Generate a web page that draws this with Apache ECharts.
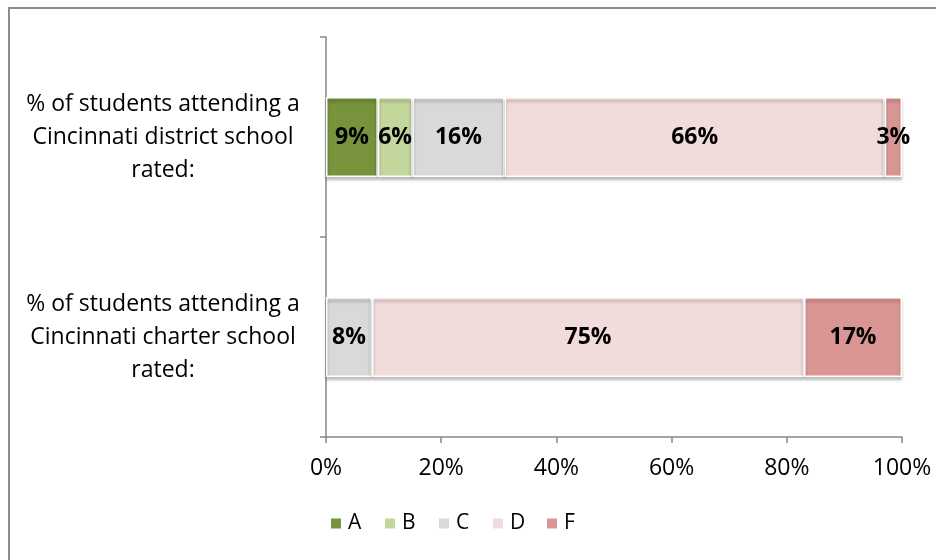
<!DOCTYPE html>
<html>
<head>
<meta charset="utf-8">
<script src="https://cdn.jsdelivr.net/npm/echarts@6/dist/echarts.min.js"></script>
<style>
  html, body { margin: 0; padding: 0; background: #fff; overflow: hidden; }
  #frame { position: absolute; left: 8px; top: 7px; width: 1000px; height: 700px; border: 2px solid #8c8c8c; box-sizing: border-box; }
  #chart { position: absolute; left: 0; top: 0; width: 936px; height: 560px; }
</style>
</head>
<body>
<div id="frame"></div>
<div id="chart"></div>
<script>
// Share of students by school rating, district vs. charter
const categories = [
  '% of students attending a\nCincinnati district school\nrated:',
  '% of students attending a\nCincinnati charter school\nrated:'
];
const grades = ['A', 'B', 'C', 'D', 'F'];
const gradeA = [9, 0];
const gradeB = [6, 0];
const gradeC = [16, 8];
const gradeD = [66, 75];
const gradeF = [3, 17];
const xTicks = [0, 20, 40, 60, 80, 100];

const colors = ['#77933C', '#C3D69B', '#D9D9D9', '#F2DCDB', '#D99694'];
const valuesByGrade = [gradeA, gradeB, gradeC, gradeD, gradeF];
const font = '"Open Sans", "DejaVu Sans", sans-serif';

const series = grades.map((g, i) => ({
  name: g,
  type: 'bar',
  stack: 'total',
  barWidth: 80,
  data: valuesByGrade[i].map(v => (v === 0 ? null : v)),
  itemStyle: {
    color: colors[i],
    borderColor: '#ffffff',
    borderWidth: 1.5,
    shadowColor: 'rgba(0,0,0,0.3)',
    shadowBlur: 3,
    shadowOffsetY: 3
  },
  label: {
    show: true,
    position: 'inside',
    formatter: p => (p.value ? p.value + '%' : ''),
    color: '#000',
    fontFamily: font,
    fontWeight: 'bold',
    fontSize: 23
  }
}));

// one legend entry per grade, laid out on an even pitch
const legends = grades.map((g, i) => ({
  data: [g],
  left: 324 + i * 54,
  top: 508,
  padding: 5,
  itemWidth: 12,
  itemHeight: 12,
  icon: 'rect',
  textStyle: { fontFamily: font, fontSize: 21, color: '#000', padding: [0, 0, 0, 1] }
}));

const chart = echarts.init(document.getElementById('chart'));
chart.setOption({
  animation: false,
  color: colors,
  grid: { left: 326, right: 34, top: 37, bottom: 123 },
  legend: legends,
  xAxis: {
    type: 'value',
    min: 0,
    max: 100,
    interval: 20,
    axisLine: { show: true, lineStyle: { color: '#868686', width: 1.5 } },
    axisTick: { show: true, length: 6, lineStyle: { color: '#868686', width: 1.5 } },
    splitLine: { show: false },
    axisLabel: {
      margin: 20,
      fontFamily: font,
      fontSize: 23,
      color: '#000',
      formatter: v => (xTicks.includes(v) ? v + '%' : '')
    }
  },
  yAxis: {
    type: 'category',
    inverse: true,
    data: categories,
    axisLine: { show: true, lineStyle: { color: '#868686', width: 1.5 } },
    axisTick: { show: true, length: 6, lineStyle: { color: '#868686', width: 1.5 } },
    axisLabel: {
      align: 'center',
      margin: 163,
      fontFamily: font,
      fontSize: 23,
      lineHeight: 33,
      color: '#000'
    }
  },
  series: series
});
</script>
</body>
</html>
